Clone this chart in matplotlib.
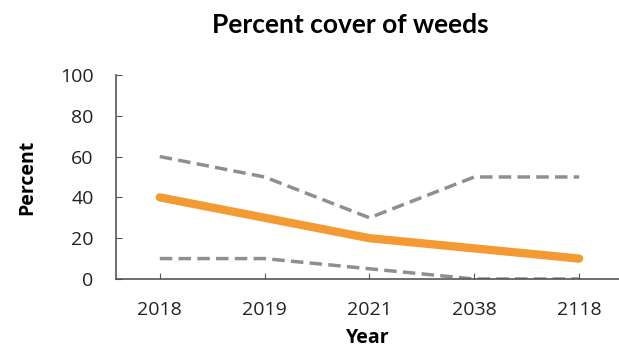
import matplotlib.pyplot as plt

years = ["2018", "2019", "2021", "2038", "2118"]
mean_cover = [40, 30, 20, 15, 10]
upper_cover = [60, 50, 30, 50, 50]
lower_cover = [10, 10, 5, 0, 0]
y_ticks = [0, 20, 40, 60, 80, 100]

plt.rcParams["font.family"] = ["Open Sans", "DejaVu Sans"]

fig = plt.figure(figsize=(6.19, 3.47), dpi=100)
ax = fig.add_axes([0.187, 0.196, 0.813, 0.588])

x = range(len(years))
gray = "#8f8f93"
ax.plot(x, upper_cover, color=gray, lw=2.5, dashes=(3.6, 1.8))
ax.plot(x, lower_cover, color=gray, lw=2.5, dashes=(3.6, 1.8))
ax.plot(x, mean_cover, color="#f39a33", lw=6, solid_capstyle="round")

ax.set_xlim(-0.42, 4.38)
ax.set_ylim(0, 100)
ax.set_xticks(list(x))
ax.set_xticklabels(years)
ax.set_yticks(y_ticks)

for side in ["top", "right"]:
    ax.spines[side].set_visible(False)
for side in ["left", "bottom"]:
    ax.spines[side].set_color("#555555")
    ax.spines[side].set_linewidth(1.2)
ax.tick_params(direction="in", length=4, color="#555555", labelsize=14,
               labelcolor="#222222")
ax.tick_params(axis="x", pad=16)
ax.tick_params(axis="y", pad=16)

ax.set_xlabel("Year", fontsize=14, fontweight="bold", labelpad=6)
ax.set_ylabel("Percent", fontsize=14, fontweight="bold", labelpad=16)
fig.text(350 / 619, 1 - 25 / 347, "Percent cover of weeds", ha="center",
         va="center", fontsize=19, fontweight="bold", family=["Lato", "DejaVu Sans"])

fig.savefig("out.png", dpi=100)
